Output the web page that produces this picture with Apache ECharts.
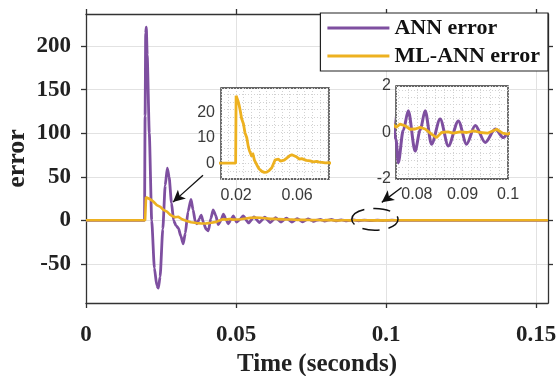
<!DOCTYPE html>
<html>
<head>
<meta charset="utf-8">
<script src="https://cdn.jsdelivr.net/npm/echarts@6/dist/echarts.min.js"></script>
<style>
  html, body { margin: 0; padding: 0; background: #fff; }
  #chart { width: 558px; height: 376px; }
</style>
</head>
<body>
<div id="chart"></div>
<script>
// ANN controller error (time in seconds, error value)
const annTime = [
  0, 0.0195, 0.0197, 0.0199, 0.0201, 0.0204, 0.0211, 0.0219,
  0.0228, 0.0236, 0.0241, 0.0247, 0.0256, 0.0264, 0.0271, 0.0277, 0.0285, 0.0292,
  0.0300, 0.0308, 0.0316, 0.0324, 0.0331, 0.0340, 0.0350, 0.0357, 0.0364, 0.0370,
  0.0378, 0.0384, 0.0392, 0.0400, 0.0408, 0.0416, 0.0424, 0.0432, 0.0441, 0.0450,
  0.0458, 0.0466, 0.0474, 0.0482, 0.0491, 0.0502, 0.0513, 0.0524, 0.0542, 0.0560,
  0.0578, 0.0596, 0.0614, 0.0632, 0.0650, 0.0668, 0.0686, 0.0704, 0.0722, 0.0740,
  0.0754, 0.0759, 0.0770, 0.0781, 0.0796, 0.0807, 0.0818, 0.0832, 0.0851, 0.0869,
  0.0891, 0.0909, 0.0928, 0.0950, 0.0972, 0.0990, 0.1000, 0.1020, 0.1040, 0.1540
];
const annError = [
  0, 0, 120, 215, 222, 190, 100, 0,
  -55, -75, -78, -65, -10, 40, 60, 50, 20, 0,
  -6, -9, -18, -27, -15, 10, 24, 12, -1, -4,
  2, 6, -3, -10, -12, 2, 12, 6, -5, 0,
  7, 2, -4, 0, 5, -2, 1, 5, -3, 4,
  -2.5, 3.5, -2.5, 3, -2, 2.5, -2, 2, -1.8, 1.5,
  -0.3, -1.3, 0.1, 0.94, -0.8, 0.1, 0.94, -0.5, 0.58, -0.58,
  0.5, -0.5, 0.3, -0.43, 0.15, -0.22, -0.05, 0.1, -0.05, 0
];

// ML-ANN controller error
const mlTime = [
  0, 0.0197, 0.0200, 0.0205, 0.0212, 0.0219, 0.0226, 0.0236, 0.0248, 0.0258,
  0.0270, 0.0280, 0.0287, 0.0292, 0.0297, 0.0303, 0.0308, 0.0313, 0.0320, 0.0336,
  0.0350, 0.0369, 0.0385, 0.0401, 0.0418, 0.0434, 0.0445, 0.0456, 0.0467, 0.0478,
  0.0490, 0.0500, 0.0515, 0.0532, 0.0548, 0.0565, 0.0580, 0.0598, 0.0615, 0.0630,
  0.0641, 0.0660, 0.0685, 0.0705, 0.0729, 0.0745, 0.0754, 0.0763, 0.0775, 0.0785,
  0.0796, 0.0807, 0.0818, 0.0832, 0.0843, 0.0854, 0.0868, 0.0880, 0.0895, 0.0910,
  0.0925, 0.0939, 0.0955, 0.0975, 0.0988, 0.0999, 0.1010, 0.1540
];
const mlError = [
  0, 0, 26.5, 27, 24.5, 23, 21, 17.5, 15.5, 12,
  10, 6.5, 5, 4.5, 3.5, 2.6, 4, 3, 1.2, -0.7,
  -2.2, -3.2, -3.6, -3.5, -2.8, -1.8, -0.2, 1.3, 0.8, 1.6,
  0.8, 0.9, 1.2, 2, 2.8, 3.3, 2.9, 2.4, 1.6, 1.8,
  1.3, 1.1, 0.9, 0.5, 0.7, 0.4, 0.22, 0.36, 0.28, 0.14,
  0.15, 0.22, 0.15, -0.07, -0.22, 0, 0.03, -0.03, 0.03, 0,
  0.07, 0, -0.03, 0.14, -0.03, -0.07, 0, 0
];

// tick labels
const mainXTicks = [0, 0.05, 0.1, 0.15];
const mainYTicks = [-50, 0, 50, 100, 150, 200];
const zoom1XTicks = [0.02, 0.06];
const zoom1YTicks = [0, 10, 20];
const zoom2XTicks = [0.08, 0.09, 0.1];
const zoom2YTicks = [-2, 0, 2];

// axis ranges
const mainXRange = [0, 0.154];
const mainYRange = [-95, 237];
const zoom1XRange = [0.0101, 0.0809];
const zoom1YRange = [-6.2, 29.5];
const zoom2XRange = [0.0754, 0.1];
const zoom2YRange = [-2, 2];

// annotation anchors (data coordinates)
const arrowToPeak = [[0.039, 51.8], [0.029, 20.9]];
const arrowToTail = [[0.1052, 37.8], [0.0986, 20.6]];
const tailRegion = { center: [0.0963, 1.1], halfWidth: 0.0077, halfHeight: 12.6 };

const PURPLE = '#7E4FA0';
const YELLOW = '#EDB120';
const SERIF = '"Liberation Serif", "Times New Roman", serif';
const SANS = '"Liberation Sans", Arial, sans-serif';

const zip = (xs, ys) => xs.map((x, i) => [x, ys[i]]);
const annData = zip(annTime, annError);
const mlData = zip(mlTime, mlError);
const fmt = v => String(parseFloat(Number(v).toFixed(4)));

const axisDark = { color: '#333', width: 1.3 };

const mainLabel = {
  fontFamily: SERIF, fontWeight: 'bold', fontSize: 23, color: '#222', formatter: fmt
};
const insetLabel = { fontFamily: SANS, fontSize: 16, color: '#3a3a3a', formatter: fmt };
const dotted = { show: true, lineStyle: { type: [1, 2], color: '#d2d2d2', width: 1 } };

const chart = echarts.init(document.getElementById('chart'), null, { renderer: 'canvas' });

chart.setOption({
  animation: false,
  backgroundColor: '#fff',
  grid: [
    { left: 86, top: 14, width: 462, height: 289, outerBoundsMode: 'none', containLabel: false },
    { left: 221, top: 88, width: 108, height: 91, show: true, z: 1,
      outerBoundsMode: 'none', containLabel: false,
      backgroundColor: '#fff', borderColor: '#333', borderWidth: 1.4 },
    { left: 396, top: 86, width: 112, height: 93, show: true, z: 1,
      outerBoundsMode: 'none', containLabel: false,
      backgroundColor: '#fff', borderColor: '#333', borderWidth: 1.4 }
  ],
  legend: {
    data: ['ANN error', 'ML-ANN error'],
    orient: 'vertical',
    right: 10, top: 13,
    backgroundColor: '#fff', borderColor: '#222', borderWidth: 1.2,
    padding: [4, 8, 4, 7],
    icon: 'rect',
    itemWidth: 62, itemHeight: 3, itemGap: 6,
    textStyle: { fontFamily: SERIF, fontWeight: 'bold', fontSize: 22, color: '#111', lineHeight: 22 }
  },
  xAxis: [
    {
      gridIndex: 0, type: 'value', min: mainXRange[0], max: mainXRange[1],
      axisLine: { show: true, onZero: false, lineStyle: axisDark },
      axisTick: { show: true, customValues: mainXTicks, length: 5, lineStyle: axisDark },
      axisLabel: Object.assign({ customValues: mainXTicks, margin: 21 }, mainLabel),
      splitLine: { show: true, lineStyle: { color: '#e2e2e2', width: 1 } },
      name: 'Time (seconds)', nameLocation: 'middle', nameGap: 48,
      nameTextStyle: { fontFamily: SERIF, fontWeight: 'bold', fontSize: 25, color: '#222' }
    },
    {
      gridIndex: 0, type: 'value', position: 'top', min: mainXRange[0], max: mainXRange[1],
      axisLine: { show: true, onZero: false, lineStyle: axisDark },
      axisTick: { show: true, customValues: mainXTicks, length: 5, lineStyle: axisDark },
      axisLabel: { show: false }, splitLine: { show: false }
    },
    {
      gridIndex: 1, type: 'value', min: zoom1XRange[0], max: zoom1XRange[1], z: 2,
      splitNumber: 14,
      axisLine: { show: false }, axisTick: { show: false },
      axisLabel: Object.assign({ customValues: zoom1XTicks, margin: 9 }, insetLabel),
      splitLine: dotted
    },
    {
      gridIndex: 2, type: 'value', min: zoom2XRange[0], max: zoom2XRange[1], z: 2,
      splitNumber: 10,
      axisLine: { show: false }, axisTick: { show: false },
      axisLabel: Object.assign({ customValues: zoom2XTicks, margin: 8 }, insetLabel),
      splitLine: dotted
    }
  ],
  yAxis: [
    {
      gridIndex: 0, type: 'value', min: mainYRange[0], max: mainYRange[1],
      axisLine: { show: true, onZero: false, lineStyle: axisDark },
      axisTick: { show: true, customValues: mainYTicks, length: 5, lineStyle: axisDark },
      axisLabel: Object.assign({ customValues: mainYTicks, margin: 15 }, mainLabel),
      splitLine: { show: true, lineStyle: { color: '#e2e2e2', width: 1 } },
      name: 'error', nameLocation: 'middle', nameGap: 56, nameRotate: 90,
      nameMoveOverlap: false,
      nameTextStyle: { fontFamily: SERIF, fontWeight: 'bold', fontSize: 26, color: '#222' }
    },
    {
      gridIndex: 0, type: 'value', position: 'right', min: mainYRange[0], max: mainYRange[1],
      axisLine: { show: true, onZero: false, lineStyle: axisDark },
      axisTick: { show: true, customValues: mainYTicks, length: 5, lineStyle: axisDark },
      axisLabel: { show: false }, splitLine: { show: false }
    },
    {
      gridIndex: 1, type: 'value', min: zoom1YRange[0], max: zoom1YRange[1], z: 2,
      splitNumber: 12,
      axisLine: { show: false }, axisTick: { show: false },
      axisLabel: Object.assign({ customValues: zoom1YTicks, margin: 6 }, insetLabel),
      splitLine: dotted
    },
    {
      gridIndex: 2, type: 'value', min: zoom2YRange[0], max: zoom2YRange[1], z: 2,
      splitNumber: 12,
      axisLine: { show: false }, axisTick: { show: false },
      axisLabel: Object.assign({ customValues: zoom2YTicks, margin: 5 }, insetLabel),
      splitLine: dotted
    }
  ],
  series: [
    {
      name: 'ANN error', type: 'line', xAxisIndex: 0, yAxisIndex: 0,
      data: annData, showSymbol: false, symbol: 'none', smooth: 0.2, smoothMonotone: 'x',
      lineStyle: { color: PURPLE, width: 2.8 }, itemStyle: { color: PURPLE }, z: 2
    },
    {
      name: 'ML-ANN error', type: 'line', xAxisIndex: 0, yAxisIndex: 0,
      data: mlData, showSymbol: false, symbol: 'none',
      lineStyle: { color: YELLOW, width: 2.6 }, itemStyle: { color: YELLOW }, z: 3,
      markLine: {
        silent: true, animation: false,
        symbol: ['none', 'arrow'], symbolSize: [9, 12],
        label: { show: false },
        lineStyle: { color: '#111', width: 1.3, type: 'solid' },
        emphasis: { disabled: true },
        data: [
          [{ coord: arrowToPeak[0] }, { coord: arrowToPeak[1] }],
          [{ coord: arrowToTail[0] }, { coord: arrowToTail[1] }]
        ]
      }
    },
    {
      name: 'ML-ANN error', type: 'line', xAxisIndex: 2, yAxisIndex: 2,
      data: mlData, showSymbol: false, symbol: 'none', clip: true,
      lineStyle: { color: YELLOW, width: 2.8 }, itemStyle: { color: YELLOW }, z: 4
    },
    {
      name: 'ANN error', type: 'line', xAxisIndex: 3, yAxisIndex: 3,
      data: annData, showSymbol: false, symbol: 'none', clip: true, smooth: 0.3, smoothMonotone: 'x',
      lineStyle: { color: PURPLE, width: 3 }, itemStyle: { color: PURPLE }, z: 4
    },
    {
      name: 'ML-ANN error', type: 'line', xAxisIndex: 3, yAxisIndex: 3,
      data: mlData, showSymbol: false, symbol: 'none', clip: true,
      lineStyle: { color: YELLOW, width: 2.8 }, itemStyle: { color: YELLOW }, z: 5
    }
  ]
});

// dashed ellipse around the settled tail of the response
const c = chart.convertToPixel({ xAxisIndex: 0, yAxisIndex: 0 }, tailRegion.center);
const e = chart.convertToPixel({ xAxisIndex: 0, yAxisIndex: 0 },
  [tailRegion.center[0] + tailRegion.halfWidth, tailRegion.center[1] + tailRegion.halfHeight]);
chart.setOption({
  graphic: [{
    type: 'ellipse', silent: true, z: 10,
    shape: { cx: c[0], cy: c[1], rx: Math.abs(e[0] - c[0]), ry: Math.abs(e[1] - c[1]) },
    style: { fill: 'none', stroke: '#111', lineWidth: 1.5, lineDash: [17, 9] }
  }]
});
</script>
</body>
</html>
